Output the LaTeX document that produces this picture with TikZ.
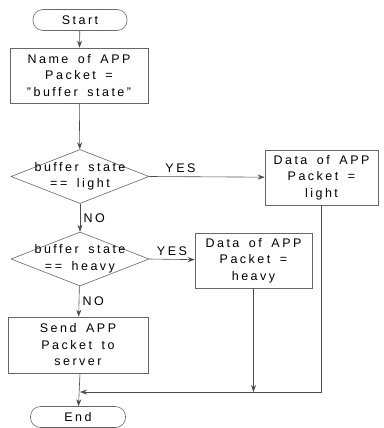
\documentclass[tikz,border=0pt]{standalone}
\usepackage{fontspec}
\setmainfont{Liberation Sans}[LetterSpace=20, WordSpace=1.6]
\usetikzlibrary{shapes.geometric}
\usetikzlibrary{arrows.meta}

\begin{document}
\begin{tikzpicture}[x=1pt, y=-1pt,
  terminal/.style={rectangle, rounded corners=10pt, draw=black!60, line width=0.6pt, minimum width=#1, minimum height=21pt, inner sep=1pt},
  process/.style={rectangle, draw=black!60, line width=0.6pt, minimum width=#1, minimum height=55pt, align=center, inner sep=1pt},
  decision/.style={diamond, draw=black!60, line width=0.6pt, minimum width=138pt, minimum height=54pt, inner sep=0pt},
  flow/.style={draw=black!70, line width=0.6pt, -{Stealth[length=7pt, width=5pt]}},
  font=\fontsize{12.5}{16.5}\selectfont]

      \useasboundingbox (0,0) rectangle (383,428);

      \node[terminal=94pt] (start) at (80,20) {Start};
      \node[process=138pt] (name) at (79,75.5) {Name of APP\\Packet =\\"buffer state"};

      \node[decision] (dec1) at (80,176.5) {};
      \node[align=center, inner sep=0pt] (dec1text) at (dec1) {buffer state\\== light};
      \node[process=113pt] (light) at (321.5,177.5) {Data of APP\\Packet =\\light};

      \node[decision] (dec2) at (80,259) {};
      \node[align=center, inner sep=0pt] (dec2text) at (dec2) {buffer state\\== heavy};
      \node[process=117pt] (heavy) at (253.5,260.5) {Data of APP\\Packet =\\heavy};

      \node[process=140pt, minimum height=56pt] (send) at (78,345) {Send APP\\Packet to\\server};
      \node[terminal=95pt] (end) at (78,417) {End};

      \coordinate (join) at (80,392);

      \draw[flow] (start) -- (name);
      \draw[flow] (name) -- (dec1);
      \draw[flow] (dec1.east) -- (light) node [pos=0.27, above] (yes1) {YES};
      \draw[flow] (dec1) -- (dec2) node [midway, right] (no1) {NO};
      \draw[flow] (dec2.east) -- (heavy) node [midway, above] (yes2) {YES};
      \draw[flow] (dec2) -- (send) node [midway, right] (no2) {NO};
      \draw[flow] (send.south -| join) -- (end);
      \draw[flow] (light) |- (join);
      \draw[flow] (heavy) -- (heavy |- join);

\end{tikzpicture}
\end{document}
